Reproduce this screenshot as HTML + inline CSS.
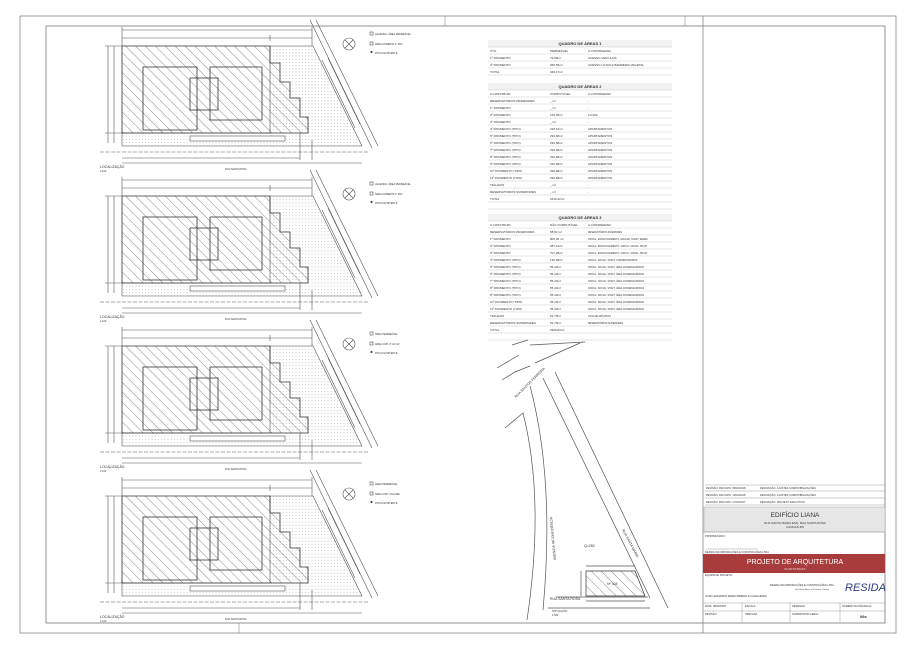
<!DOCTYPE html>
<html><head><meta charset="utf-8"><style>
html,body{margin:0;padding:0;background:#fff;}
svg{display:block;font-family:"Liberation Sans",sans-serif;}
text{fill:#333;}
</style></head><body>
<svg width="916" height="650" viewBox="0 0 916 650" xmlns="http://www.w3.org/2000/svg">
<defs>
<pattern id="hat" width="7" height="7" patternUnits="userSpaceOnUse" patternTransform="rotate(-45)">
<line x1="0" y1="0" x2="0" y2="7" stroke="#555" stroke-width="0.7"/>
</pattern>
<pattern id="dot" width="3.2" height="3.2" patternUnits="userSpaceOnUse">
<circle cx="1.6" cy="1.6" r="0.4" fill="#888"/>
</pattern>
<g id="plan" stroke="#555" fill="none" stroke-width="0.6">
<line x1="122" y1="30" x2="312" y2="30"/>
<line x1="122" y1="38" x2="312" y2="38"/>
<line x1="270" y1="35" x2="270" y2="41"/>
<line x1="122" y1="27" x2="122" y2="46"/>
<line x1="312" y1="27" x2="312" y2="46"/>
<line x1="108" y1="46" x2="108" y2="143"/>
<line x1="114" y1="46" x2="114" y2="143"/>
<line x1="105" y1="46" x2="122" y2="46"/>
<line x1="105" y1="133" x2="122" y2="133"/>
<polygon points="270,46 313,46 362,146 122,146 122,133 270,133" fill="url(#dot)" stroke="#555"/>
<polygon points="122,46 270,46 270,63 280,63 280,82 290,82 290,98 300,98 300,117 308,117 308,133 122,133" fill="url(#hat)" stroke="#333" stroke-width="0.8"/>
<rect x="143" y="67" width="54" height="63" stroke="#333" stroke-width="0.8"/>
<rect x="210" y="67" width="52" height="53" stroke="#333" stroke-width="0.8"/>
<rect x="190" y="78" width="28" height="32" stroke="#333" stroke-width="0.8"/>
<rect x="190" y="136" width="95" height="5" fill="#fff"/>
<line x1="100" y1="152" x2="368" y2="152" stroke-dasharray="4,1.5"/>
<line x1="122" y1="163" x2="362" y2="163"/>
<line x1="122" y1="158" x2="300" y2="158"/>
<line x1="310" y1="20" x2="372" y2="148"/>
<line x1="316" y1="20" x2="378" y2="146"/>
<line x1="322" y1="60" x2="355" y2="128"/>
<line x1="328" y1="58" x2="360" y2="124"/>
<line x1="300" y1="133" x2="300" y2="160"/>
<line x1="312" y1="140" x2="312" y2="160"/>
<circle cx="349" cy="44" r="6"/>
<line x1="345" y1="40" x2="353" y2="48"/><line x1="353" y1="40" x2="345" y2="48"/>
<rect x="370" y="32" width="3" height="3"/>
<rect x="370" y="42" width="3" height="3" fill="url(#dot)"/>
<circle cx="371.5" cy="52" r="0.8" fill="#333"/>
</g>
</defs>

<rect x="20" y="16" width="876" height="617" fill="none" stroke="#888" stroke-width="0.8"/>
<rect x="46" y="26" width="839" height="597" fill="none" stroke="#777" stroke-width="0.8"/>
<line x1="703" y1="16" x2="703" y2="633" stroke="#888" stroke-width="0.8"/>
<line x1="445" y1="16" x2="445" y2="26" stroke="#888" stroke-width="0.6"/>
<line x1="685" y1="16" x2="685" y2="26" stroke="#888" stroke-width="0.6"/>
<line x1="239" y1="623" x2="239" y2="633" stroke="#888" stroke-width="0.6"/>

<use href="#plan"/>
<use href="#plan" transform="translate(0,150)"/>
<use href="#plan" transform="translate(0,300)"/>
<use href="#plan" transform="translate(0,450)"/>
<g font-size="3.5">
<text x="100" y="168">LOCALIZAÇÃO</text><text x="100" y="172" font-size="2.5">1:100</text>
<text x="225" y="170" font-size="2.5">RUA SANTA ROSA</text>
<text x="100" y="318">LOCALIZAÇÃO</text><text x="100" y="322" font-size="2.5">1:100</text>
<text x="225" y="320" font-size="2.5">RUA SANTA ROSA</text>
<text x="100" y="468">LOCALIZAÇÃO</text><text x="100" y="472" font-size="2.5">1:100</text>
<text x="225" y="470" font-size="2.5">RUA SANTA ROSA</text>
<text x="100" y="618">LOCALIZAÇÃO</text><text x="100" y="622" font-size="2.5">1:100</text>
<text x="225" y="620" font-size="2.5">RUA SANTA ROSA</text>
</g>
<g font-size="2.5">
<text x="375" y="35">LEGENDA: ÁREA PERMEÁVEL</text><text x="375" y="45">ÁREA COBERTA 1º PAV.</text><text x="375" y="54">PISCO EXISTENTE</text>
<text x="375" y="185">LEGENDA: ÁREA PERMEÁVEL</text><text x="375" y="195">ÁREA COBERTA 2º PAV.</text><text x="375" y="204">PISCO EXISTENTE</text>
<text x="375" y="335">ÁREA PERMEÁVEL</text><text x="375" y="345">ÁREA COB. 3º AO 11º</text><text x="375" y="354">PISCO EXISTENTE</text>
<text x="375" y="485">ÁREA PERMEÁVEL</text><text x="375" y="495">ÁREA COB. VOLUME</text><text x="375" y="504">PISCO EXISTENTE</text>
</g>

<g font-size="3" stroke-width="0.4">
<rect x="488" y="40" width="184" height="7" fill="#f2f2f2"/>
<rect x="488" y="83" width="184" height="7" fill="#f2f2f2"/>
<rect x="488" y="214" width="184" height="7" fill="#f2f2f2"/>
<text x="580" y="45" font-size="4" font-weight="bold" text-anchor="middle">QUADRO DE ÁREAS 1</text>
<g stroke="#bbb">
<line x1="488" y1="47" x2="672" y2="47"/><line x1="488" y1="54" x2="672" y2="54"/><line x1="488" y1="61" x2="672" y2="61"/><line x1="488" y1="68" x2="672" y2="68"/><line x1="488" y1="75" x2="672" y2="75"/>
</g>
<text x="490" y="52">ÚTIL</text><text x="550" y="52">PERMEÁVEL</text><text x="588" y="52">A CONSIDERAR</text>
<text x="490" y="59">1º PAVIMENTO</text><text x="550" y="59">79,58m²</text><text x="588" y="59">ACESSO VEÍCULOS</text>
<text x="490" y="66">2º PAVIMENTO</text><text x="550" y="66">266,59m²</text><text x="588" y="66">ACESSO LOJAS E BARREIRA VEGETAL</text>
<text x="490" y="73">TOTAL</text><text x="550" y="73">346,17m²</text>

<text x="580" y="88" font-size="4" font-weight="bold" text-anchor="middle">QUADRO DE ÁREAS 2</text>
<g stroke="#bbb">
<line x1="488" y1="90" x2="672" y2="90"/><line x1="488" y1="97" x2="672" y2="97"/><line x1="488" y1="104" x2="672" y2="104"/><line x1="488" y1="111" x2="672" y2="111"/><line x1="488" y1="118" x2="672" y2="118"/><line x1="488" y1="125" x2="672" y2="125"/><line x1="488" y1="132" x2="672" y2="132"/><line x1="488" y1="139" x2="672" y2="139"/><line x1="488" y1="146" x2="672" y2="146"/><line x1="488" y1="153" x2="672" y2="153"/><line x1="488" y1="160" x2="672" y2="160"/><line x1="488" y1="167" x2="672" y2="167"/><line x1="488" y1="174" x2="672" y2="174"/><line x1="488" y1="181" x2="672" y2="181"/><line x1="488" y1="188" x2="672" y2="188"/><line x1="488" y1="195" x2="672" y2="195"/><line x1="488" y1="202" x2="672" y2="202"/><line x1="488" y1="209" x2="672" y2="209"/>
</g>
<text x="490" y="95">A CONSTRUIR</text><text x="550" y="95">COMPUTÁVEL</text><text x="588" y="95">A CONSIDERAR</text>
<text x="490" y="102">RESERVATÓRIOS INFERIORES</text><text x="550" y="102">_ m²</text><text x="588" y="102">-</text>
<text x="490" y="109">1º PAVIMENTO</text><text x="550" y="109">_ m²</text><text x="588" y="109">-</text>
<text x="490" y="116">2º PAVIMENTO</text><text x="550" y="116">163,45m²</text><text x="588" y="116">LOJAS</text>
<text x="490" y="123">3º PAVIMENTO</text><text x="550" y="123">_ m²</text><text x="588" y="123">-</text>
<text x="490" y="130">4º PAVIMENTO (TIPO)</text><text x="550" y="130">218,61m²</text><text x="588" y="130">APARTAMENTOS</text>
<text x="490" y="137">5º PAVIMENTO (TIPO)</text><text x="550" y="137">293,68m²</text><text x="588" y="137">APARTAMENTOS</text>
<text x="490" y="144">6º PAVIMENTO (TIPO)</text><text x="550" y="144">293,68m²</text><text x="588" y="144">APARTAMENTOS</text>
<text x="490" y="151">7º PAVIMENTO (TIPO)</text><text x="550" y="151">293,68m²</text><text x="588" y="151">APARTAMENTOS</text>
<text x="490" y="158">8º PAVIMENTO (TIPO)</text><text x="550" y="158">293,68m²</text><text x="588" y="158">APARTAMENTOS</text>
<text x="490" y="165">9º PAVIMENTO (TIPO)</text><text x="550" y="165">293,68m²</text><text x="588" y="165">APARTAMENTOS</text>
<text x="490" y="172">10º PAVIMENTO (TIPO)</text><text x="550" y="172">293,68m²</text><text x="588" y="172">APARTAMENTOS</text>
<text x="490" y="179">11º PAVIMENTO (TIPO)</text><text x="550" y="179">293,68m²</text><text x="588" y="179">APARTAMENTOS</text>
<text x="490" y="186">TELHADO</text><text x="550" y="186">_ m²</text><text x="588" y="186">-</text>
<text x="490" y="193">RESERVATÓRIOS SUPERIORES</text><text x="550" y="193">_ m²</text><text x="588" y="193">-</text>
<text x="490" y="200">TOTAL</text><text x="550" y="200">2416,22m²</text>

<text x="580" y="219" font-size="4" font-weight="bold" text-anchor="middle">QUADRO DE ÁREAS 3</text>
<g stroke="#bbb">
<line x1="488" y1="221" x2="672" y2="221"/><line x1="488" y1="228" x2="672" y2="228"/><line x1="488" y1="235" x2="672" y2="235"/><line x1="488" y1="242" x2="672" y2="242"/><line x1="488" y1="249" x2="672" y2="249"/><line x1="488" y1="256" x2="672" y2="256"/><line x1="488" y1="263" x2="672" y2="263"/><line x1="488" y1="270" x2="672" y2="270"/><line x1="488" y1="277" x2="672" y2="277"/><line x1="488" y1="284" x2="672" y2="284"/><line x1="488" y1="291" x2="672" y2="291"/><line x1="488" y1="298" x2="672" y2="298"/><line x1="488" y1="305" x2="672" y2="305"/><line x1="488" y1="312" x2="672" y2="312"/><line x1="488" y1="319" x2="672" y2="319"/><line x1="488" y1="326" x2="672" y2="326"/><line x1="488" y1="333" x2="672" y2="333"/><line x1="488" y1="340" x2="672" y2="340"/>
</g>
<text x="490" y="226">A CONSTRUIR</text><text x="550" y="226">NÃO COMPUTÁVEL</text><text x="588" y="226">A CONSIDERAR</text>
<text x="490" y="233">RESERVATÓRIOS INFERIORES</text><text x="550" y="233">58,83 m²</text><text x="588" y="233" font-size="2.3">RESERVATÓRIOS INFERIORES</text>
<text x="490" y="240">1º PAVIMENTO</text><text x="550" y="240">805,05 m²</text><text x="588" y="240" font-size="2.3">CIRCUL. ESTACIONAMENTO, ESCADA, SHAFT, REDES</text>
<text x="490" y="247">2º PAVIMENTO</text><text x="550" y="247">687,12m²</text><text x="588" y="247" font-size="2.3">CIRCUL. ESTACIONAMENTO, CIRCUL. SOCIAL, SHAFT</text>
<text x="490" y="254">3º PAVIMENTO</text><text x="550" y="254">707,28m²</text><text x="588" y="254" font-size="2.3">CIRCUL. ESTACIONAMENTO, CIRCUL. SOCIAL, SHAFT</text>
<text x="490" y="261">4º PAVIMENTO (TIPO)</text><text x="550" y="261">130,96m²</text><text x="588" y="261" font-size="2.3">CIRCUL. SOCIAL, SHAFT, CONDENSADORAS</text>
<text x="490" y="268">5º PAVIMENTO (TIPO)</text><text x="550" y="268">55,43m²</text><text x="588" y="268" font-size="2.3">CIRCUL. SOCIAL, SHAFT, ÁREA CONDENSADORAS</text>
<text x="490" y="275">6º PAVIMENTO (TIPO)</text><text x="550" y="275">55,43m²</text><text x="588" y="275" font-size="2.3">CIRCUL. SOCIAL, SHAFT, ÁREA CONDENSADORAS</text>
<text x="490" y="282">7º PAVIMENTO (TIPO)</text><text x="550" y="282">55,43m²</text><text x="588" y="282" font-size="2.3">CIRCUL. SOCIAL, SHAFT, ÁREA CONDENSADORAS</text>
<text x="490" y="289">8º PAVIMENTO (TIPO)</text><text x="550" y="289">55,43m²</text><text x="588" y="289" font-size="2.3">CIRCUL. SOCIAL, SHAFT, ÁREA CONDENSADORAS</text>
<text x="490" y="296">9º PAVIMENTO (TIPO)</text><text x="550" y="296">55,43m²</text><text x="588" y="296" font-size="2.3">CIRCUL. SOCIAL, SHAFT, ÁREA CONDENSADORAS</text>
<text x="490" y="303">10º PAVIMENTO (TIPO)</text><text x="550" y="303">55,43m²</text><text x="588" y="303" font-size="2.3">CIRCUL. SOCIAL, SHAFT, ÁREA CONDENSADORAS</text>
<text x="490" y="310">11º PAVIMENTO (TIPO)</text><text x="550" y="310">55,43m²</text><text x="588" y="310" font-size="2.3">CIRCUL. SOCIAL, SHAFT, ÁREA CONDENSADORAS</text>
<text x="490" y="317">TELHADO</text><text x="550" y="317">52,79m²</text><text x="588" y="317" font-size="2.3">CASA DE MÁQUINAS</text>
<text x="490" y="324">RESERVATÓRIOS SUPERIORES</text><text x="550" y="324">52,79m²</text><text x="588" y="324" font-size="2.3">RESERVATÓRIOS SUPERIORES</text>
<text x="490" y="331">TOTAL</text><text x="550" y="331">2929,83m²</text>
</g>

<g stroke="#555" fill="none" stroke-width="0.7">
<path d="M497 368 L519 355"/>
<path d="M512 345 L528 340"/>
<path d="M502 380 L515 372 L530 366"/>
<path d="M535 363 L580 343"/>
<path d="M530 345 L585 342"/>
<path d="M505 428 L523 413 Q545 500 527 620"/>
<path d="M530 386 Q555 480 543 610"/>
<path d="M543 378 L650 598"/>
<path d="M555 372 L668 608"/>
<line x1="556" y1="597" x2="648" y2="597"/>
<line x1="548" y1="608" x2="650" y2="608"/>
<polygon points="586,571 635,571 645,596 586,596" fill="url(#hat)" stroke="#333"/>
<line x1="586" y1="566" x2="635" y2="566"/>
<line x1="581" y1="571" x2="581" y2="596"/>
<line x1="586" y1="601" x2="645" y2="601"/>
</g>
<g font-size="3.5">
<text transform="translate(516,398) rotate(-45)">RUA SANTOS FERREIRA</text>
<text transform="translate(556,560) rotate(-95)">AVENIDA INCONFIDÊNCIA</text>
<text transform="translate(622,530) rotate(62)">RUA SANTA MARIA</text>
<text x="584" y="547">Q=283</text>
<text x="607" y="585">Nº 424</text>
<text x="550" y="600">RUA SANTA ROSA</text>
<text x="552" y="612" font-size="3">SITUAÇÃO</text><text x="552" y="616" font-size="2.5">1:500</text>
</g>

<g stroke="#999" stroke-width="0.5" fill="none">
<line x1="705" y1="485" x2="885" y2="485"/>
<line x1="705" y1="491" x2="885" y2="491"/>
<line x1="705" y1="498" x2="885" y2="498"/>
<line x1="705" y1="505" x2="885" y2="505"/>
</g>
<rect x="704" y="507" width="181" height="25" fill="#e6e6e6" stroke="#aaa" stroke-width="0.5"/>
<rect x="703" y="554" width="182" height="19" fill="#a83c3c"/>
<g stroke="#999" stroke-width="0.5">
<line x1="703" y1="532" x2="885" y2="532"/>
<line x1="703" y1="603" x2="885" y2="603"/>
<line x1="703" y1="611" x2="885" y2="611"/>
<line x1="742" y1="603" x2="742" y2="623"/>
<line x1="790" y1="603" x2="790" y2="623"/>
<line x1="840" y1="603" x2="840" y2="623"/>
<line x1="706" y1="549" x2="758" y2="549"/>
</g>
<g font-size="2.6">
<text x="706" y="489">REVISÃO: R02 DATA: 08/02/2018</text><text x="760" y="489">DESCRIÇÃO: AJUSTES COMPATIBILIZAÇÕES</text>
<text x="706" y="496">REVISÃO: R01 DATA: 10/01/2018</text><text x="760" y="496">DESCRIÇÃO: AJUSTES COMPATIBILIZAÇÕES</text>
<text x="706" y="503">REVISÃO: R00 DATA: 17/02/2017</text><text x="760" y="503">DESCRIÇÃO: PROJETO EXECUTIVO</text>
<text x="705" y="537">PROPRIETÁRIO:</text>
<text x="705" y="553">RESIDA INCORPORAÇÕES E CONSTRUÇÕES LTDA</text>
<text x="705" y="576">EQUIPE DE PROJETO:</text>
<text x="705" y="597">JOSÉ LEONARDO MARIA RIBEIRO E CAVALHEIRO</text>
<text x="705" y="607">DATA: 08/02/2018</text><text x="745" y="607">ESCALA:</text><text x="745" y="615">INDICADA</text>
<text x="792" y="607">DESENHO:</text><text x="842" y="607">NÚMERO DA PRANCHA:</text>
<text x="705" y="615">REVISÃO:</text><text x="792" y="615">SUPERVISOR GERAL:</text>
<text x="770" y="586">RESIDA INCORPORAÇÕES E CONSTRUÇÕES LTDA</text>
<text x="795" y="590" font-size="2">Rua Santa Maria, 424 Centro, Canoas</text>
</g>
<text x="795" y="517" font-size="6.5" text-anchor="middle" fill="#333">EDIFÍCIO LIANA</text>
<text x="795" y="524" font-size="3" text-anchor="middle">RUA SANTA MARIA ESQ. RUA SANTA ROSA</text>
<text x="795" y="528" font-size="3" text-anchor="middle">CANOAS-RS</text>
<text x="795" y="564" font-size="7" text-anchor="middle" style="fill:#fff">PROJETO DE ARQUITETURA</text>
<text x="795" y="570" font-size="3" text-anchor="middle" style="fill:#f3dada">PLANTA BAIXA</text>
<text x="845" y="591" font-size="11" font-style="italic" style="fill:#2a3c80">RESIDA</text>
<text x="860" y="618" font-size="4" font-weight="bold">08s</text>
</svg>
</body></html>
